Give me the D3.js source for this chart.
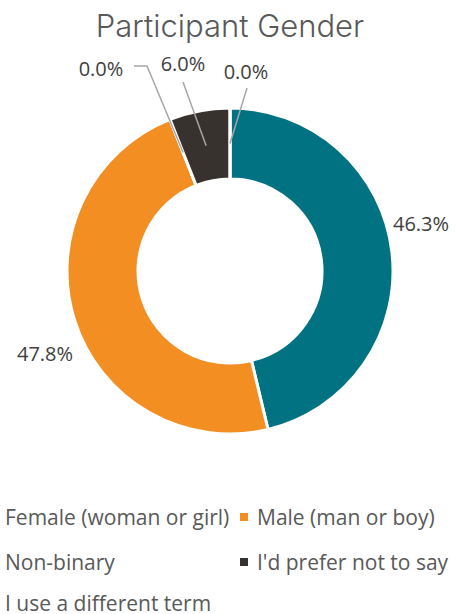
<!DOCTYPE html>
<html>
  <head>
    <style type="text/css">
      body { margin: 0; background: #fff; }
      text { font-family: "Open Sans", "Noto Sans", sans-serif; }
    </style>
  </head>
  <body>
    <div id="chart"></div>
    <script src="https://cdn.jsdelivr.net/npm/d3@7"></script>
    <script type="text/javascript">
      var categories = ["Female (woman or girl)", "Male (man or boy)", "Non-binary", "I'd prefer not to say", "I use a different term"];
      var values = [46.3, 47.8, 0.0, 6.0, 0.0];
      var colors = ["#007282", "#F28E22", "#7F7F7F", "#38322F", "#A5A5A5"];
      var title = "Participant Gender";

      var width = 457, height = 614,
          cx = 230, cy = 271,
          outerR = 163, innerR = 92;

      // where each data label sits, and where its leader line leaves the text
      var labelAt = [[421, 223], [45, 353], [101, 68], [183, 63], [246, 71]];
      var leaderFrom = [null, null, [[134, 66], [147, 66]], [[183, 82]], [[247, 88]]];

      var svg = d3.select("#chart").append("svg")
          .attr("width", width)
          .attr("height", height);

      svg.append("text")
          .attr("x", 230)
          .attr("y", 37)
          .attr("text-anchor", "middle")
          .attr("fill", "#595959")
          .style("font-family", "Inter, 'Open Sans', sans-serif")
          .style("font-size", "31px")
          .style("font-weight", 300)
          .text(title);

      var pie = d3.pie().sort(null).value(function (d) { return d; });
      var arcs = pie(values);
      var arc = d3.arc().innerRadius(innerR).outerRadius(outerR);

      var g = svg.append("g").attr("transform", "translate(" + cx + "," + cy + ")");

      g.selectAll("path.slice")
          .data(arcs)
        .enter().append("path")
          .attr("class", "slice")
          .attr("d", arc)
          .attr("fill", function (d, i) { return colors[i]; })
          .attr("stroke", "#fff")
          .attr("stroke-width", 3);

      // leader lines for the small slices
      var line = d3.line();
      arcs.forEach(function (d, i) {
        if (!leaderFrom[i]) return;
        var c = arc.centroid(d);
        var pts = leaderFrom[i].map(function (p) { return [p[0] - cx, p[1] - cy]; });
        pts.push(c);
        g.append("path")
            .attr("d", line(pts))
            .attr("fill", "none")
            .attr("stroke", "#A6A6A6")
            .attr("stroke-width", 1.5);
      });

      svg.selectAll("text.lbl")
          .data(values)
        .enter().append("text")
          .attr("class", "lbl")
          .attr("x", function (d, i) { return labelAt[i][0]; })
          .attr("y", function (d, i) { return labelAt[i][1]; })
          .attr("text-anchor", "middle")
          .attr("dominant-baseline", "central")
          .attr("fill", "#404040")
          .style("font-size", "20px")
          .text(function (d) { return d.toFixed(1) + "%"; });

      // legend, two columns; the left column's markers fall off the edge
      var legX = [-12, 240], legRows = [517, 562, 603];
      var leg = svg.selectAll("g.leg")
          .data(categories)
        .enter().append("g")
          .attr("class", "leg")
          .attr("transform", function (d, i) {
            return "translate(" + legX[i % 2] + "," + legRows[Math.floor(i / 2)] + ")";
          });

      leg.append("rect")
          .attr("x", 0)
          .attr("y", -4)
          .attr("width", 8)
          .attr("height", 8)
          .attr("fill", function (d, i) { return colors[i]; });

      leg.append("text")
          .attr("x", 17)
          .attr("y", 0)
          .attr("dominant-baseline", "central")
          .attr("fill", "#595959")
          .style("font-size", "21px")
          .text(function (d) { return d; });
    </script>
  </body>
</html>
